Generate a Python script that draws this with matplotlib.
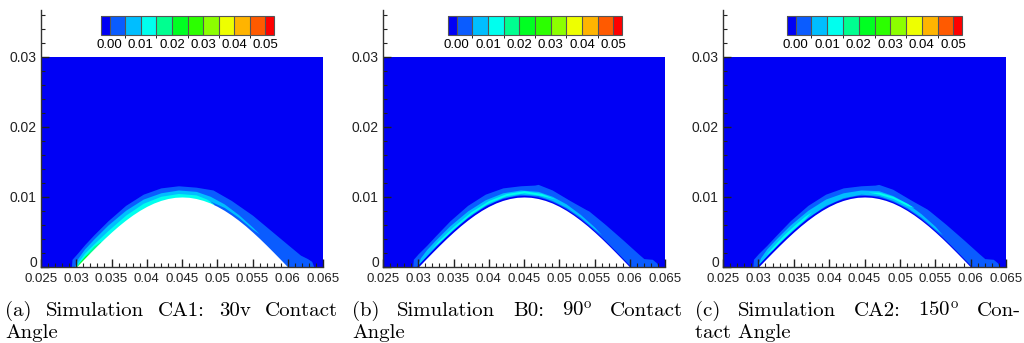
import numpy as np
import matplotlib
matplotlib.use("Agg")
import matplotlib.pyplot as plt
import matplotlib.transforms as mtransforms
from matplotlib.colors import ListedColormap, BoundaryNorm
from matplotlib.cm import ScalarMappable
from matplotlib.ticker import MultipleLocator

plt.rcParams['font.family'] = ['Liberation Sans', 'DejaVu Sans']
plt.rcParams['mathtext.fontset'] = 'cm'

# contour levels and colours (Tecplot style flood)
levels = [0.0, 0.005, 0.01, 0.015, 0.02, 0.025, 0.03, 0.035, 0.04, 0.045, 0.05]
level_colors = ['#0000F5', '#0A5CFF', '#00BEFF', '#00FFEE', '#00FF90', '#00FF22',
                '#2CFF00', '#8CFF00', '#EEFF00', '#FFB400', '#FF5A00', '#FF0000']
cbar_ticks = [0.0, 0.01, 0.02, 0.03, 0.04, 0.05]

# domain and hill
domain_x = [0.025, 0.065]
domain_top = 0.03
hill_x = [0.030, 0.031, 0.032, 0.033, 0.034, 0.035, 0.036, 0.037, 0.038, 0.039, 0.040,
          0.041, 0.042, 0.043, 0.044, 0.045, 0.046, 0.047, 0.048, 0.049, 0.050,
          0.051, 0.052, 0.053, 0.054, 0.055, 0.056, 0.057, 0.058, 0.059, 0.060]
hill_y = [0.0, 0.00105, 0.00208, 0.00309, 0.00407, 0.0050, 0.00588, 0.00669, 0.00743, 0.00809, 0.00866,
          0.00914, 0.00951, 0.00978, 0.00995, 0.0100, 0.00995, 0.00978, 0.00951, 0.00914, 0.00866,
          0.00809, 0.00743, 0.00669, 0.00588, 0.0050, 0.00407, 0.00309, 0.00208, 0.00105, 0.0]

# ---- panel (a) layers: value, x, upper, lower
a_blue_x = [0.0293, 0.0294, 0.0302, 0.0312, 0.0325, 0.0345, 0.0370, 0.0395, 0.0420, 0.0445, 0.0470,
            0.0488, 0.0494, 0.0520, 0.0550, 0.0575, 0.0600, 0.0618, 0.0628, 0.0634, 0.0637]
a_blue_up = [0.0, 0.0011, 0.0020, 0.0032, 0.0046, 0.0066, 0.0088, 0.0104, 0.0113, 0.0116, 0.0114,
             0.0111, 0.0110, 0.0095, 0.0074, 0.0053, 0.0032, 0.0017, 0.0012, 0.0008, 0.0]
a_sky_x = [0.0297, 0.0302, 0.0312, 0.0325, 0.0345, 0.0370, 0.0395, 0.0420, 0.0445, 0.0470,
           0.0490, 0.0510, 0.0530, 0.0550, 0.0560]
a_sky_up = [0.0, 0.0012, 0.0026, 0.0040, 0.0060, 0.0081, 0.0097, 0.0106, 0.0110, 0.0108,
            0.0101, 0.0090, 0.0075, 0.0057, 0.0047]
a_sky_lo = [0.0, 0.0, 0.0, 0.0, 0.0, 0.0, 0.0, 0.0, 0.0, 0.0,
            0.0094, 0.0085, 0.0071, 0.0054, 0.0047]
a_cyan_x = [0.0299, 0.0303, 0.0312, 0.0325, 0.0345, 0.0370, 0.0395, 0.0420, 0.0445, 0.0470, 0.0485, 0.0495]
a_cyan_up = [0.0, 0.0008, 0.0020, 0.0033, 0.0052, 0.0074, 0.0091, 0.0101, 0.0105, 0.0103, 0.0097, 0.0090]
a_cyan_lo = [0.0, 0.0, 0.0, 0.0, 0.0, 0.0, 0.0, 0.0, 0.0, 0.0, 0.0, 0.0090]
a_aqua_x = [0.0300, 0.0305, 0.0315, 0.0325, 0.0335]
a_aqua_up = [0.0, 0.0008, 0.0019, 0.0030, 0.0037]
a_aqua_lo = [0.0, 0.0, 0.0, 0.0, 0.0037]
a_green_x = [0.0300, 0.0305, 0.0313, 0.0320]
a_green_up = [0.0, 0.0007, 0.0016, 0.0021]
a_green_lo = [0.0, 0.0, 0.0, 0.0021]

# ---- panel (b)
b_blue_x = [0.0292, 0.0293, 0.0300, 0.0312, 0.0325, 0.0345, 0.0370, 0.0395, 0.0420, 0.0445, 0.0465,
            0.0470, 0.0490, 0.0515, 0.0538, 0.0542, 0.0565, 0.0590, 0.0612, 0.0620, 0.0632, 0.0638, 0.0641]
b_blue_up = [0.0, 0.0011, 0.0019, 0.0031, 0.0045, 0.0066, 0.0088, 0.0104, 0.0113, 0.0116, 0.0117,
             0.0118, 0.0110, 0.0095, 0.0082, 0.0080, 0.0061, 0.0039, 0.0019, 0.0012, 0.0011, 0.0006, 0.0]
b_sky_x = [0.0298, 0.0303, 0.0312, 0.0325, 0.0345, 0.0370, 0.0395, 0.0420, 0.0445, 0.0470,
           0.0490, 0.0510, 0.0530, 0.0550, 0.0560]
b_sky_up = [0.0, 0.0013, 0.0025, 0.0039, 0.0059, 0.0080, 0.0096, 0.0106, 0.0110, 0.0108,
            0.0101, 0.0090, 0.0075, 0.0057, 0.0046]
b_sky_lo = [0.0, 0.0004, 0.0016, 0.0030, 0.0049, 0.0071, 0.0088, 0.0099, 0.0104, 0.0102,
            0.0095, 0.0085, 0.0071, 0.0054, 0.0046]
b_cyan_x = [0.0318, 0.0330, 0.0350, 0.0375, 0.0400, 0.0425, 0.0450, 0.0475, 0.0495]
b_cyan_up = [0.0026, 0.0039, 0.0058, 0.0079, 0.0095, 0.0105, 0.0109, 0.0105, 0.0097]
b_cyan_lo = [0.0026, 0.0036, 0.0055, 0.0076, 0.0092, 0.0102, 0.0106, 0.0102, 0.0097]

# ---- panel (c)
c_blue_x = b_blue_x
c_blue_up = [0.0, 0.0011, 0.0019, 0.0031, 0.0045, 0.0066, 0.0088, 0.0104, 0.0113, 0.0116, 0.0117,
             0.0118, 0.0111, 0.0096, 0.0083, 0.0080, 0.0061, 0.0039, 0.0019, 0.0012, 0.0011, 0.0006, 0.0]
c_sky_x = b_sky_x
c_sky_up = [0.0, 0.0013, 0.0026, 0.0040, 0.0060, 0.0081, 0.0097, 0.0106, 0.0110, 0.0109,
            0.0102, 0.0091, 0.0076, 0.0058, 0.0046]
c_sky_lo = b_sky_lo
c_cyan1_x = [0.0310, 0.0320, 0.0335, 0.0350, 0.0365, 0.0375]
c_cyan1_up = [0.0017, 0.0029, 0.0045, 0.0059, 0.0072, 0.0079]
c_cyan1_lo = [0.0017, 0.0025, 0.0041, 0.0055, 0.0068, 0.0079]
c_cyan2_x = [0.0455, 0.0470, 0.0490, 0.0510, 0.0520]
c_cyan2_up = [0.0107, 0.0107, 0.0101, 0.0091, 0.0085]
c_cyan2_lo = [0.0107, 0.0104, 0.0098, 0.0088, 0.0085]

panels = [
    dict(left=41, right=323, cbar=(101, 274),
         layers=[(0.0025, a_blue_x, a_blue_up, None),
                 (0.0075, a_sky_x, a_sky_up, a_sky_lo),
                 (0.0125, a_cyan_x, a_cyan_up, a_cyan_lo),
                 (0.0175, a_aqua_x, a_aqua_up, a_aqua_lo),
                 (0.0225, a_green_x, a_green_up, a_green_lo)],
         edge=False),
    dict(left=383, right=665, cbar=(448, 622),
         layers=[(0.0025, b_blue_x, b_blue_up, None),
                 (0.0075, b_sky_x, b_sky_up, b_sky_lo),
                 (0.0125, b_cyan_x, b_cyan_up, b_cyan_lo)],
         edge=True),
    dict(left=723, right=1006, cbar=(787, 962),
         layers=[(0.0025, c_blue_x, c_blue_up, None),
                 (0.0075, c_sky_x, c_sky_up, c_sky_lo),
                 (0.0125, c_cyan1_x, c_cyan1_up, c_cyan1_lo),
                 (0.0125, c_cyan2_x, c_cyan2_up, c_cyan2_lo)],
         edge=True),
]

captions = [
    (5, 338, ["(a)", "Simulation", "CA1:", "30v", "Contact"], "Angle"),
    (352, 683, ["(b)", "Simulation", "B0:", r"90$^{\rm o}$", "Contact"], "Angle"),
    (695, 1021, ["(c)", "Simulation", "CA2:", r"150$^{\rm o}$", "Con-"], "tact Angle"),
]

W, H = 1024, 343
fig = plt.figure(figsize=(W / 100, H / 100), dpi=100)

cmap = ListedColormap(level_colors[1:-1])
cmap.set_under(level_colors[0])
cmap.set_over(level_colors[-1])
norm = BoundaryNorm(levels, cmap.N)

ymax = 0.0367
for p in panels:
    ax = fig.add_axes([p['left'] / W, 1 - 267 / H, (p['right'] - p['left']) / W, 257 / H])
    ax.fill_between(domain_x, 0, domain_top, color=cmap(norm(-0.001)), lw=0, zorder=0.5)
    for val, x, up, lo in p['layers']:
        ax.fill_between(x, 0 if lo is None else lo, up, color=cmap(norm(val)), lw=0, zorder=0.6)
    if p['edge']:
        ax.plot(hill_x, hill_y, color=cmap(norm(-0.001)), lw=1.5, zorder=0.7)
    ax.fill_between(hill_x, 0, hill_y, color='white', lw=0, zorder=0.8)

    ax.set_xlim(0.025, 0.065)
    ax.set_ylim(0, ymax)
    ax.spines['top'].set_visible(False)
    ax.spines['right'].set_visible(False)
    for s in ['left', 'bottom']:
        ax.spines[s].set_color('#333333')
        ax.spines[s].set_linewidth(1.0)
    ax.set_xticks([0.025, 0.03, 0.035, 0.04, 0.045, 0.05, 0.055, 0.06, 0.065])
    ax.set_xticklabels(['0.025', '0.03', '0.035', '0.04', '0.045', '0.05', '0.055', '0.06', '0.065'])
    ax.set_yticks([0, 0.01, 0.02, 0.03])
    ax.set_yticklabels(['0', '0.01', '0.02', '0.03'])
    ax.xaxis.set_minor_locator(MultipleLocator(0.001))
    ax.yaxis.set_minor_locator(MultipleLocator(0.002))
    ax.tick_params(which='both', direction='in', colors='#222222')
    ax.tick_params(axis='x', labelsize=9.5, pad=4)
    ax.tick_params(axis='y', labelsize=10, pad=3)
    ax.tick_params(which='major', length=6, width=1)
    ax.tick_params(which='minor', length=3, width=0.8)
    ax.patch.set_alpha(0)
    # the "0" label sits a little above the corner, clear of "0.025"
    zero_lab = ax.get_yticklabels()[0]
    zero_lab.set_transform(zero_lab.get_transform() +
                           mtransforms.ScaledTranslation(0, 4 / 72, fig.dpi_scale_trans))

    cax = fig.add_axes([p['cbar'][0] / W, 1 - 35 / H, (p['cbar'][1] - p['cbar'][0]) / W, 19 / H])
    cb = fig.colorbar(ScalarMappable(norm=norm, cmap=cmap), cax=cax, orientation='horizontal',
                      extend='both', extendrect=True, extendfrac=0.055, drawedges=True)
    cb.outline.set_edgecolor('#555555')
    cb.outline.set_linewidth(0.8)
    cb.dividers.set_color('#555555')
    cb.dividers.set_linewidth(0.8)
    cb.set_ticks(cbar_ticks)
    cb.set_ticklabels(['%.2f' % t for t in cbar_ticks])
    cax.tick_params(length=0, labelsize=9.5, pad=3)

# captions, justified like the LaTeX source
renderer = fig.canvas.get_renderer()
cap_font = dict(family='cmr10', fontsize=15)
for x0, x1, words, last in captions:
    widths = []
    for w in words:
        t = fig.text(0, 0, w, **cap_font)
        widths.append(t.get_window_extent(renderer).width)
        t.remove()
    gap = (x1 - x0 - sum(widths)) / (len(words) - 1)
    xx = x0
    for w, wd in zip(words, widths):
        fig.text(xx / W, 1 - 316 / H, w, va='baseline', ha='left', **cap_font)
        xx += wd + gap
    fig.text(x0 / W, 1 - 338 / H, last, va='baseline', ha='left', **cap_font)

fig.savefig('out.png', dpi=100)
